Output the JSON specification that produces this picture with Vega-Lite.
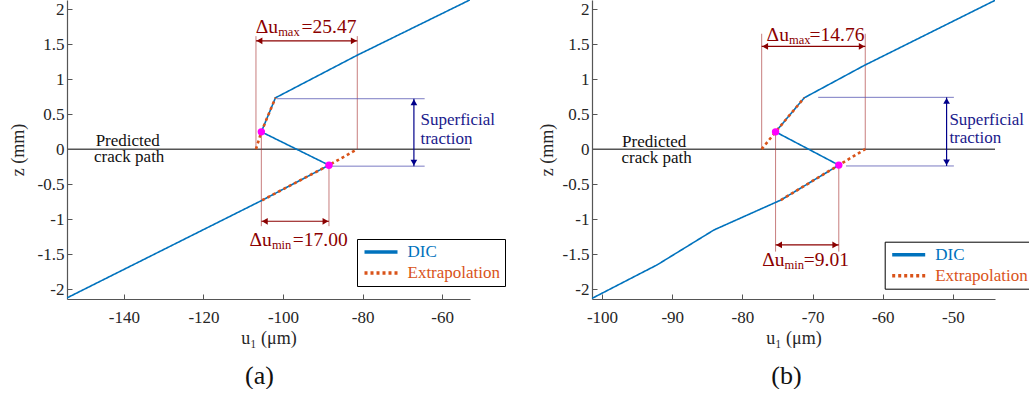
{
  "$schema": "https://vega.github.io/schema/vega-lite/v6.json",
  "background": "white",
  "padding": {"left": 9, "top": 0, "right": 0, "bottom": 0},
  "spacing": 32,
  "config": {
    "font": "Liberation Serif",
    "view": {"stroke": null},
    "axis": {
      "labelFont": "Liberation Serif",
      "titleFont": "Liberation Serif",
      "labelFontSize": 17,
      "titleFontSize": 18,
      "titleFontWeight": "normal",
      "labelColor": "#262626",
      "titleColor": "#262626",
      "domainColor": "#555555",
      "tickColor": "#555555",
      "domainWidth": 1.2,
      "grid": false,
      "tickSize": -5,
      "labelPadding": 8,
      "labelFlush": false,
      "labelOverlap": false
    },
    "axisX": {"labelPadding": 15.5},
    "title": {"font": "Liberation Serif", "fontSize": 26, "fontWeight": "normal", "color": "#111111"}
  },
  "resolve": {
    "scale": {"color": "independent", "strokeDash": "independent", "shape": "independent"},
    "legend": {"color": "independent", "strokeDash": "independent", "shape": "independent"}
  },
  "hconcat": [
    {
      "width": 403,
      "height": 299,
      "title": {"text": "(a)", "orient": "bottom", "dx": -9, "offset": 15},
      "encoding": {
        "x": {"field": "u", "type": "quantitative",
          "scale": {"domain": [-154.3, -53], "nice": false, "zero": false},
          "axis": {"title": "u₁ (μm)", "values": [-140, -120, -100, -80, -60], "labelExpr": "'' + datum.value", "titlePadding": 4}},
        "y": {"field": "z", "type": "quantitative",
          "scale": {"domain": [-2.14, 2.13], "nice": false, "zero": false},
          "axis": {"title": "z (mm)", "values": [-2, -1.5, -1, -0.5, 0, 0.5, 1, 1.5, 2], "labelExpr": "'' + datum.value", "titlePadding": 10}}
      },
      "layer": [
        {
          "data": {"values": [{"u": -154.3, "u2": -53, "z": 0}]},
          "mark": {"type": "rule", "color": "#555555", "strokeWidth": 1.5},
          "encoding": {"x2": {"field": "u2"}}
        },
        {
          "data": {"values": [
            {"u": -106.8, "z": 0, "z2": 1.614},
            {"u": -81.33, "z": 0, "z2": 1.614},
            {"u": -105.45, "z": 0.247, "z2": -1.1},
            {"u": -88.45, "z": -0.229, "z2": -1.1}
          ]},
          "mark": {"type": "rule", "color": "#A83232", "opacity": 0.7, "strokeWidth": 0.9},
          "encoding": {"y2": {"field": "z2"}}
        },
        {
          "data": {"values": [
            {"u": -101.5, "u2": -64.4, "z": 0.72},
            {"u": -87.7, "u2": -64.4, "z": -0.243}
          ]},
          "mark": {"type": "rule", "color": "#5A5AB4", "opacity": 0.8, "strokeWidth": 1},
          "encoding": {"x2": {"field": "u2"}}
        },
        {
          "data": {"values": [
            {"u": -106.8, "u2": -81.33, "z": 1.547},
            {"u": -105.45, "u2": -88.45, "z": -1.03}
          ]},
          "mark": {"type": "rule", "color": "#8B0000", "strokeWidth": 1.2},
          "encoding": {"x2": {"field": "u2"}}
        },
        {
          "data": {"values": [{"u": -67.1, "z": 0.72, "z2": -0.243}]},
          "mark": {"type": "rule", "color": "#00008B", "strokeWidth": 1.2},
          "encoding": {"y2": {"field": "z2"}}
        },
        {
          "data": {"values": [
            {"series": "DIC", "ord": 1, "u": -154.5, "z": -2.13},
            {"series": "DIC", "ord": 2, "u": -105.25, "z": -0.73},
            {"series": "DIC", "ord": 3, "u": -88.45, "z": -0.229},
            {"series": "DIC", "ord": 4, "u": -105.45, "z": 0.247},
            {"series": "DIC", "ord": 5, "u": -101.9, "z": 0.733},
            {"series": "DIC", "ord": 6, "u": -81.4, "z": 1.34},
            {"series": "DIC", "ord": 7, "u": -52, "z": 2.16}
          ]},
          "mark": {"type": "line", "strokeWidth": 1.6, "clip": true},
          "encoding": {
            "color": {"field": "series", "type": "nominal",
              "scale": {"domain": ["DIC", "Extrapolation"], "range": ["#0072BD", "#D95319"]},
              "legend": {"orient": "none", "legendX": 290, "legendY": 239, "title": null,
                "symbolType": "M-3,0H3", "symbolSize": 121, "symbolStrokeWidth": 3.5, "symbolOffset": 11,
                "labelOffset": 18, "labelFontSize": 17, "labelFont": "Liberation Serif", "labelLimit": 0,
                "labelColor": {"expr": "datum.value == 'DIC' ? '#0072BD' : '#D95319'"},
                "padding": 4.5, "rowPadding": 3, "strokeColor": "#000000", "fillColor": "#ffffff"}},
            "strokeDash": {"field": "series", "type": "nominal",
              "scale": {"domain": ["DIC", "Extrapolation"], "range": [[1, 0], [3, 3]]}},
            "order": {"field": "ord"}
          }
        },
        {
          "data": {"values": [
            {"series": "Extrapolation", "seg": 1, "ord": 1, "u": -106.8, "z": 0},
            {"series": "Extrapolation", "seg": 1, "ord": 2, "u": -105.45, "z": 0.247},
            {"series": "Extrapolation", "seg": 1, "ord": 3, "u": -101.9, "z": 0.733},
            {"series": "Extrapolation", "seg": 2, "ord": 1, "u": -105.25, "z": -0.73},
            {"series": "Extrapolation", "seg": 2, "ord": 2, "u": -88.45, "z": -0.229},
            {"series": "Extrapolation", "seg": 2, "ord": 3, "u": -81.33, "z": 0}
          ]},
          "mark": {"type": "line", "strokeWidth": 2.6, "clip": true, "strokeCap": "butt"},
          "encoding": {
            "color": {"field": "series", "type": "nominal",
              "scale": {"domain": ["DIC", "Extrapolation"], "range": ["#0072BD", "#D95319"]}},
            "strokeDash": {"field": "series", "type": "nominal",
              "scale": {"domain": ["DIC", "Extrapolation"], "range": [[1, 0], [3, 3]]}},
            "detail": {"field": "seg"},
            "order": {"field": "ord"}
          }
        },
        {
          "data": {"values": [{"u": -105.45, "z": 0.247}, {"u": -88.45, "z": -0.229}]},
          "mark": {"type": "point", "filled": true, "size": 55, "color": "#FF00FF", "opacity": 1}
        },
        {
          "data": {"values": [
            {"u": -105.92, "z": 1.547, "dir": "left"},
            {"u": -82.21, "z": 1.547, "dir": "right"},
            {"u": -104.57, "z": -1.03, "dir": "left"},
            {"u": -89.33, "z": -1.03, "dir": "right"}
          ]},
          "mark": {"type": "point", "filled": true, "size": 45, "color": "#8B0000", "opacity": 1},
          "encoding": {"shape": {"field": "dir", "type": "nominal", "legend": null,
            "scale": {"domain": ["left", "right", "up", "down"], "range": ["triangle-left", "triangle-right", "triangle-up", "triangle-down"]}}}
        },
        {
          "data": {"values": [
            {"u": -67.1, "z": 0.67, "dir": "up"},
            {"u": -67.1, "z": -0.193, "dir": "down"}
          ]},
          "mark": {"type": "point", "filled": true, "size": 45, "color": "#00008B", "opacity": 1},
          "encoding": {"shape": {"field": "dir", "type": "nominal", "legend": null,
            "scale": {"domain": ["left", "right", "up", "down"], "range": ["triangle-left", "triangle-right", "triangle-up", "triangle-down"]}}}
        },
        {
          "data": {"values": [
            {"u": -147.1, "z": 0.047, "t": "Predicted"},
            {"u": -147.5, "z": -0.19, "t": "crack path"}
          ]},
          "mark": {"type": "text", "align": "left", "baseline": "alphabetic", "fontSize": 17, "font": "Liberation Serif", "color": "#111111"},
          "encoding": {"text": {"field": "t"}}
        },
        {
          "data": {"values": [
            {"u": -65.45, "z": 0.343, "t": "Superficial"},
            {"u": -65.45, "z": 0.071, "t": "traction"}
          ]},
          "mark": {"type": "text", "align": "left", "baseline": "alphabetic", "fontSize": 17, "font": "Liberation Serif", "color": "#1A1A8C"},
          "encoding": {"text": {"field": "t"}}
        },
        {
          "data": {"values": [
            {"u": -101.23, "z": 1.655, "t": "Δu"},
            {"u": -102.8, "z": -1.381, "t": "Δu"}
          ]},
          "mark": {"type": "text", "align": "right", "baseline": "alphabetic", "fontSize": 19.5, "font": "Liberation Serif", "color": "#8B0000"},
          "encoding": {"text": {"field": "t"}}
        },
        {
          "data": {"values": [
            {"u": -101.23, "z": 1.655, "t": "max"},
            {"u": -102.8, "z": -1.381, "t": "min"}
          ]},
          "mark": {"type": "text", "align": "left", "baseline": "alphabetic", "fontSize": 12.5, "dy": 3, "font": "Liberation Serif", "color": "#8B0000"},
          "encoding": {"text": {"field": "t"}}
        },
        {
          "data": {"values": [
            {"u": -95.35, "z": 1.655, "t": "=25.47"},
            {"u": -97.54, "z": -1.381, "t": "=17.00"}
          ]},
          "mark": {"type": "text", "align": "left", "baseline": "alphabetic", "fontSize": 19.5, "font": "Liberation Serif", "color": "#8B0000"},
          "encoding": {"text": {"field": "t"}}
        }
      ]
    },
    {
      "width": 403,
      "height": 299,
      "title": {"text": "(b)", "orient": "bottom", "dx": -7, "offset": 15},
      "encoding": {
        "x": {"field": "u", "type": "quantitative",
          "scale": {"domain": [-101.43, -44], "nice": false, "zero": false},
          "axis": {"title": "u₁ (μm)", "values": [-100, -90, -80, -70, -60, -50], "labelExpr": "'' + datum.value", "titlePadding": 4}},
        "y": {"field": "z", "type": "quantitative",
          "scale": {"domain": [-2.14, 2.13], "nice": false, "zero": false},
          "axis": {"title": "z (mm)", "values": [-2, -1.5, -1, -0.5, 0, 0.5, 1, 1.5, 2], "labelExpr": "'' + datum.value", "titlePadding": 6}}
      },
      "layer": [
        {
          "data": {"values": [{"u": -101.43, "u2": -44, "z": 0}]},
          "mark": {"type": "rule", "color": "#555555", "strokeWidth": 1.5},
          "encoding": {"x2": {"field": "u2"}}
        },
        {
          "data": {"values": [
            {"u": -77.25, "z": 0, "z2": 1.648},
            {"u": -62.49, "z": 0, "z2": 1.648},
            {"u": -75.27, "z": 0.247, "z2": -1.463},
            {"u": -66.26, "z": -0.228, "z2": -1.463}
          ]},
          "mark": {"type": "rule", "color": "#A83232", "opacity": 0.7, "strokeWidth": 0.9},
          "encoding": {"y2": {"field": "z2"}}
        },
        {
          "data": {"values": [
            {"u": -69.2, "u2": -49.86, "z": 0.74},
            {"u": -65.24, "u2": -49.86, "z": -0.24}
          ]},
          "mark": {"type": "rule", "color": "#5A5AB4", "opacity": 0.8, "strokeWidth": 1},
          "encoding": {"x2": {"field": "u2"}}
        },
        {
          "data": {"values": [
            {"u": -77.25, "u2": -62.49, "z": 1.467},
            {"u": -75.27, "u2": -66.26, "z": -1.368}
          ]},
          "mark": {"type": "rule", "color": "#8B0000", "strokeWidth": 1.2},
          "encoding": {"x2": {"field": "u2"}}
        },
        {
          "data": {"values": [{"u": -50.9, "z": 0.74, "z2": -0.24}]},
          "mark": {"type": "rule", "color": "#00008B", "strokeWidth": 1.2},
          "encoding": {"y2": {"field": "z2"}}
        },
        {
          "data": {"values": [
            {"series": "DIC", "ord": 1, "u": -101.6, "z": -2.14},
            {"series": "DIC", "ord": 2, "u": -92.14, "z": -1.652},
            {"series": "DIC", "ord": 3, "u": -84.05, "z": -1.154},
            {"series": "DIC", "ord": 4, "u": -74.52, "z": -0.727},
            {"series": "DIC", "ord": 5, "u": -66.26, "z": -0.228},
            {"series": "DIC", "ord": 6, "u": -75.27, "z": 0.247},
            {"series": "DIC", "ord": 7, "u": -71.19, "z": 0.733},
            {"series": "DIC", "ord": 8, "u": -62.6, "z": 1.197},
            {"series": "DIC", "ord": 9, "u": -43.5, "z": 2.15}
          ]},
          "mark": {"type": "line", "strokeWidth": 1.6, "clip": true},
          "encoding": {
            "color": {"field": "series", "type": "nominal",
              "scale": {"domain": ["DIC", "Extrapolation"], "range": ["#0072BD", "#D95319"]},
              "legend": {"orient": "none", "legendX": 292.7, "legendY": 241.7, "title": null,
                "symbolType": "M-3,0H3", "symbolSize": 121, "symbolStrokeWidth": 3.5, "symbolOffset": 11,
                "labelOffset": 18, "labelFontSize": 17, "labelFont": "Liberation Serif", "labelLimit": 0,
                "labelColor": {"expr": "datum.value == 'DIC' ? '#0072BD' : '#D95319'"},
                "padding": 4.5, "rowPadding": 3, "strokeColor": "#000000", "fillColor": "#ffffff"}},
            "strokeDash": {"field": "series", "type": "nominal",
              "scale": {"domain": ["DIC", "Extrapolation"], "range": [[1, 0], [3, 3]]}},
            "order": {"field": "ord"}
          }
        },
        {
          "data": {"values": [
            {"series": "Extrapolation", "seg": 1, "ord": 1, "u": -77.25, "z": 0},
            {"series": "Extrapolation", "seg": 1, "ord": 2, "u": -75.27, "z": 0.247},
            {"series": "Extrapolation", "seg": 1, "ord": 3, "u": -71.19, "z": 0.733},
            {"series": "Extrapolation", "seg": 2, "ord": 1, "u": -74.52, "z": -0.727},
            {"series": "Extrapolation", "seg": 2, "ord": 2, "u": -66.26, "z": -0.228},
            {"series": "Extrapolation", "seg": 2, "ord": 3, "u": -62.49, "z": 0}
          ]},
          "mark": {"type": "line", "strokeWidth": 2.6, "clip": true, "strokeCap": "butt"},
          "encoding": {
            "color": {"field": "series", "type": "nominal",
              "scale": {"domain": ["DIC", "Extrapolation"], "range": ["#0072BD", "#D95319"]}},
            "strokeDash": {"field": "series", "type": "nominal",
              "scale": {"domain": ["DIC", "Extrapolation"], "range": [[1, 0], [3, 3]]}},
            "detail": {"field": "seg"},
            "order": {"field": "ord"}
          }
        },
        {
          "data": {"values": [{"u": -75.27, "z": 0.247}, {"u": -66.26, "z": -0.228}]},
          "mark": {"type": "point", "filled": true, "size": 55, "color": "#FF00FF", "opacity": 1}
        },
        {
          "data": {"values": [
            {"u": -76.75, "z": 1.467, "dir": "left"},
            {"u": -62.99, "z": 1.467, "dir": "right"},
            {"u": -74.77, "z": -1.368, "dir": "left"},
            {"u": -66.76, "z": -1.368, "dir": "right"}
          ]},
          "mark": {"type": "point", "filled": true, "size": 45, "color": "#8B0000", "opacity": 1},
          "encoding": {"shape": {"field": "dir", "type": "nominal", "legend": null,
            "scale": {"domain": ["left", "right", "up", "down"], "range": ["triangle-left", "triangle-right", "triangle-up", "triangle-down"]}}}
        },
        {
          "data": {"values": [
            {"u": -50.9, "z": 0.69, "dir": "up"},
            {"u": -50.9, "z": -0.19, "dir": "down"}
          ]},
          "mark": {"type": "point", "filled": true, "size": 45, "color": "#00008B", "opacity": 1},
          "encoding": {"shape": {"field": "dir", "type": "nominal", "legend": null,
            "scale": {"domain": ["left", "right", "up", "down"], "range": ["triangle-left", "triangle-right", "triangle-up", "triangle-down"]}}}
        },
        {
          "data": {"values": [
            {"u": -97.14, "z": 0.033, "t": "Predicted"},
            {"u": -97.23, "z": -0.195, "t": "crack path"}
          ]},
          "mark": {"type": "text", "align": "left", "baseline": "alphabetic", "fontSize": 17, "font": "Liberation Serif", "color": "#111111"},
          "encoding": {"text": {"field": "t"}}
        },
        {
          "data": {"values": [
            {"u": -50.5, "z": 0.342, "t": "Superficial"},
            {"u": -50.5, "z": 0.081, "t": "traction"}
          ]},
          "mark": {"type": "text", "align": "left", "baseline": "alphabetic", "fontSize": 17, "font": "Liberation Serif", "color": "#1A1A8C"},
          "encoding": {"text": {"field": "t"}}
        },
        {
          "data": {"values": [
            {"u": -73.37, "z": 1.543, "t": "Δu"},
            {"u": -74.0, "z": -1.667, "t": "Δu"}
          ]},
          "mark": {"type": "text", "align": "right", "baseline": "alphabetic", "fontSize": 19.5, "font": "Liberation Serif", "color": "#8B0000"},
          "encoding": {"text": {"field": "t"}}
        },
        {
          "data": {"values": [
            {"u": -73.37, "z": 1.543, "t": "max"},
            {"u": -74.0, "z": -1.667, "t": "min"}
          ]},
          "mark": {"type": "text", "align": "left", "baseline": "alphabetic", "fontSize": 12.5, "dy": 3, "font": "Liberation Serif", "color": "#8B0000"},
          "encoding": {"text": {"field": "t"}}
        },
        {
          "data": {"values": [
            {"u": -70.42, "z": 1.543, "t": "=14.76"},
            {"u": -71.24, "z": -1.667, "t": "=9.01"}
          ]},
          "mark": {"type": "text", "align": "left", "baseline": "alphabetic", "fontSize": 19.5, "font": "Liberation Serif", "color": "#8B0000"},
          "encoding": {"text": {"field": "t"}}
        }
      ]
    }
  ]
}
